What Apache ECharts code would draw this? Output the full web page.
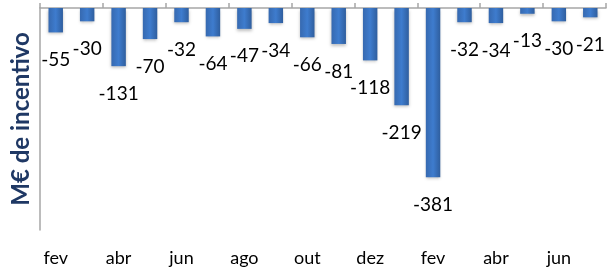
<!DOCTYPE html>
<html>
<head>
<meta charset="utf-8">
<script src="https://cdn.jsdelivr.net/npm/echarts@6/dist/echarts.min.js"></script>
<style>
    html, body { margin: 0; padding: 0; background: #fff; }
    #myChart { width: 611px; height: 272px; }
</style>
</head>
<body>
<div id="myChart"></div>
<script>
    // meses (dois anos, a começar em fevereiro)
    const months = ['fev', 'mar', 'abr', 'mai', 'jun', 'jul', 'ago', 'set', 'out', 'nov', 'dez', 'jan',
                    'fev', 'mar', 'abr', 'mai', 'jun', 'jul'];
    const incentivo = [-55, -30, -131, -70, -32, -64, -47, -34, -66, -81, -118, -219, -381, -32, -34, -13, -30, -21];
    const yMin = -500;
    const yMax = 0;

    const font = 'Lato, "Open Sans", sans-serif';
    let myChart = echarts.init(document.getElementById('myChart'));
    myChart.setOption({
        animation: false,
        grid: { left: 40, right: 5, top: 8, bottom: 42, outerBoundsMode: 'none', containLabel: false },
        xAxis: [{
            // linha do eixo no topo (zero)
            type: 'category',
            position: 'top',
            data: months,
            axisLine: { lineStyle: { color: '#a6a6a6', width: 1.5 } },
            axisTick: { show: true, interval: 1, length: 5, lineStyle: { color: '#a6a6a6', width: 1.5 } },
            axisLabel: { show: false }
        }, {
            // só as etiquetas em baixo
            type: 'category',
            position: 'bottom',
            data: months,
            axisLine: { show: false },
            axisTick: { show: false },
            axisLabel: { interval: 1, margin: 19, fontSize: 18, color: '#000', fontFamily: font }
        }],
        yAxis: {
            type: 'value',
            min: yMin,
            max: yMax,
            name: 'M€ de incentivo',
            nameLocation: 'middle',
            nameGap: 7,
            nameTextStyle: { fontSize: 24, fontWeight: 'bold', color: '#1f3864', fontFamily: font },
            axisLine: { show: true, lineStyle: { color: '#a6a6a6', width: 1.5 } },
            axisTick: { show: false },
            axisLabel: { show: false },
            splitLine: { show: false }
        },
        series: [{
            type: 'bar',
            xAxisIndex: 0,
            data: incentivo,
            barWidth: '46%',
            itemStyle: {
                color: new echarts.graphic.LinearGradient(0, 0, 1, 0, [
                    { offset: 0, color: '#3669b0' },
                    { offset: 0.5, color: '#3e7cce' },
                    { offset: 1, color: '#2f5e9e' }
                ]),
                shadowColor: 'rgba(0,0,0,0.25)',
                shadowBlur: 3,
                shadowOffsetY: 2
            },
            label: {
                show: true,
                position: 'bottom',
                distance: 18,
                fontSize: 19,
                color: '#000',
                fontFamily: font
            }
        }]
    });
</script>
</body>
</html>
